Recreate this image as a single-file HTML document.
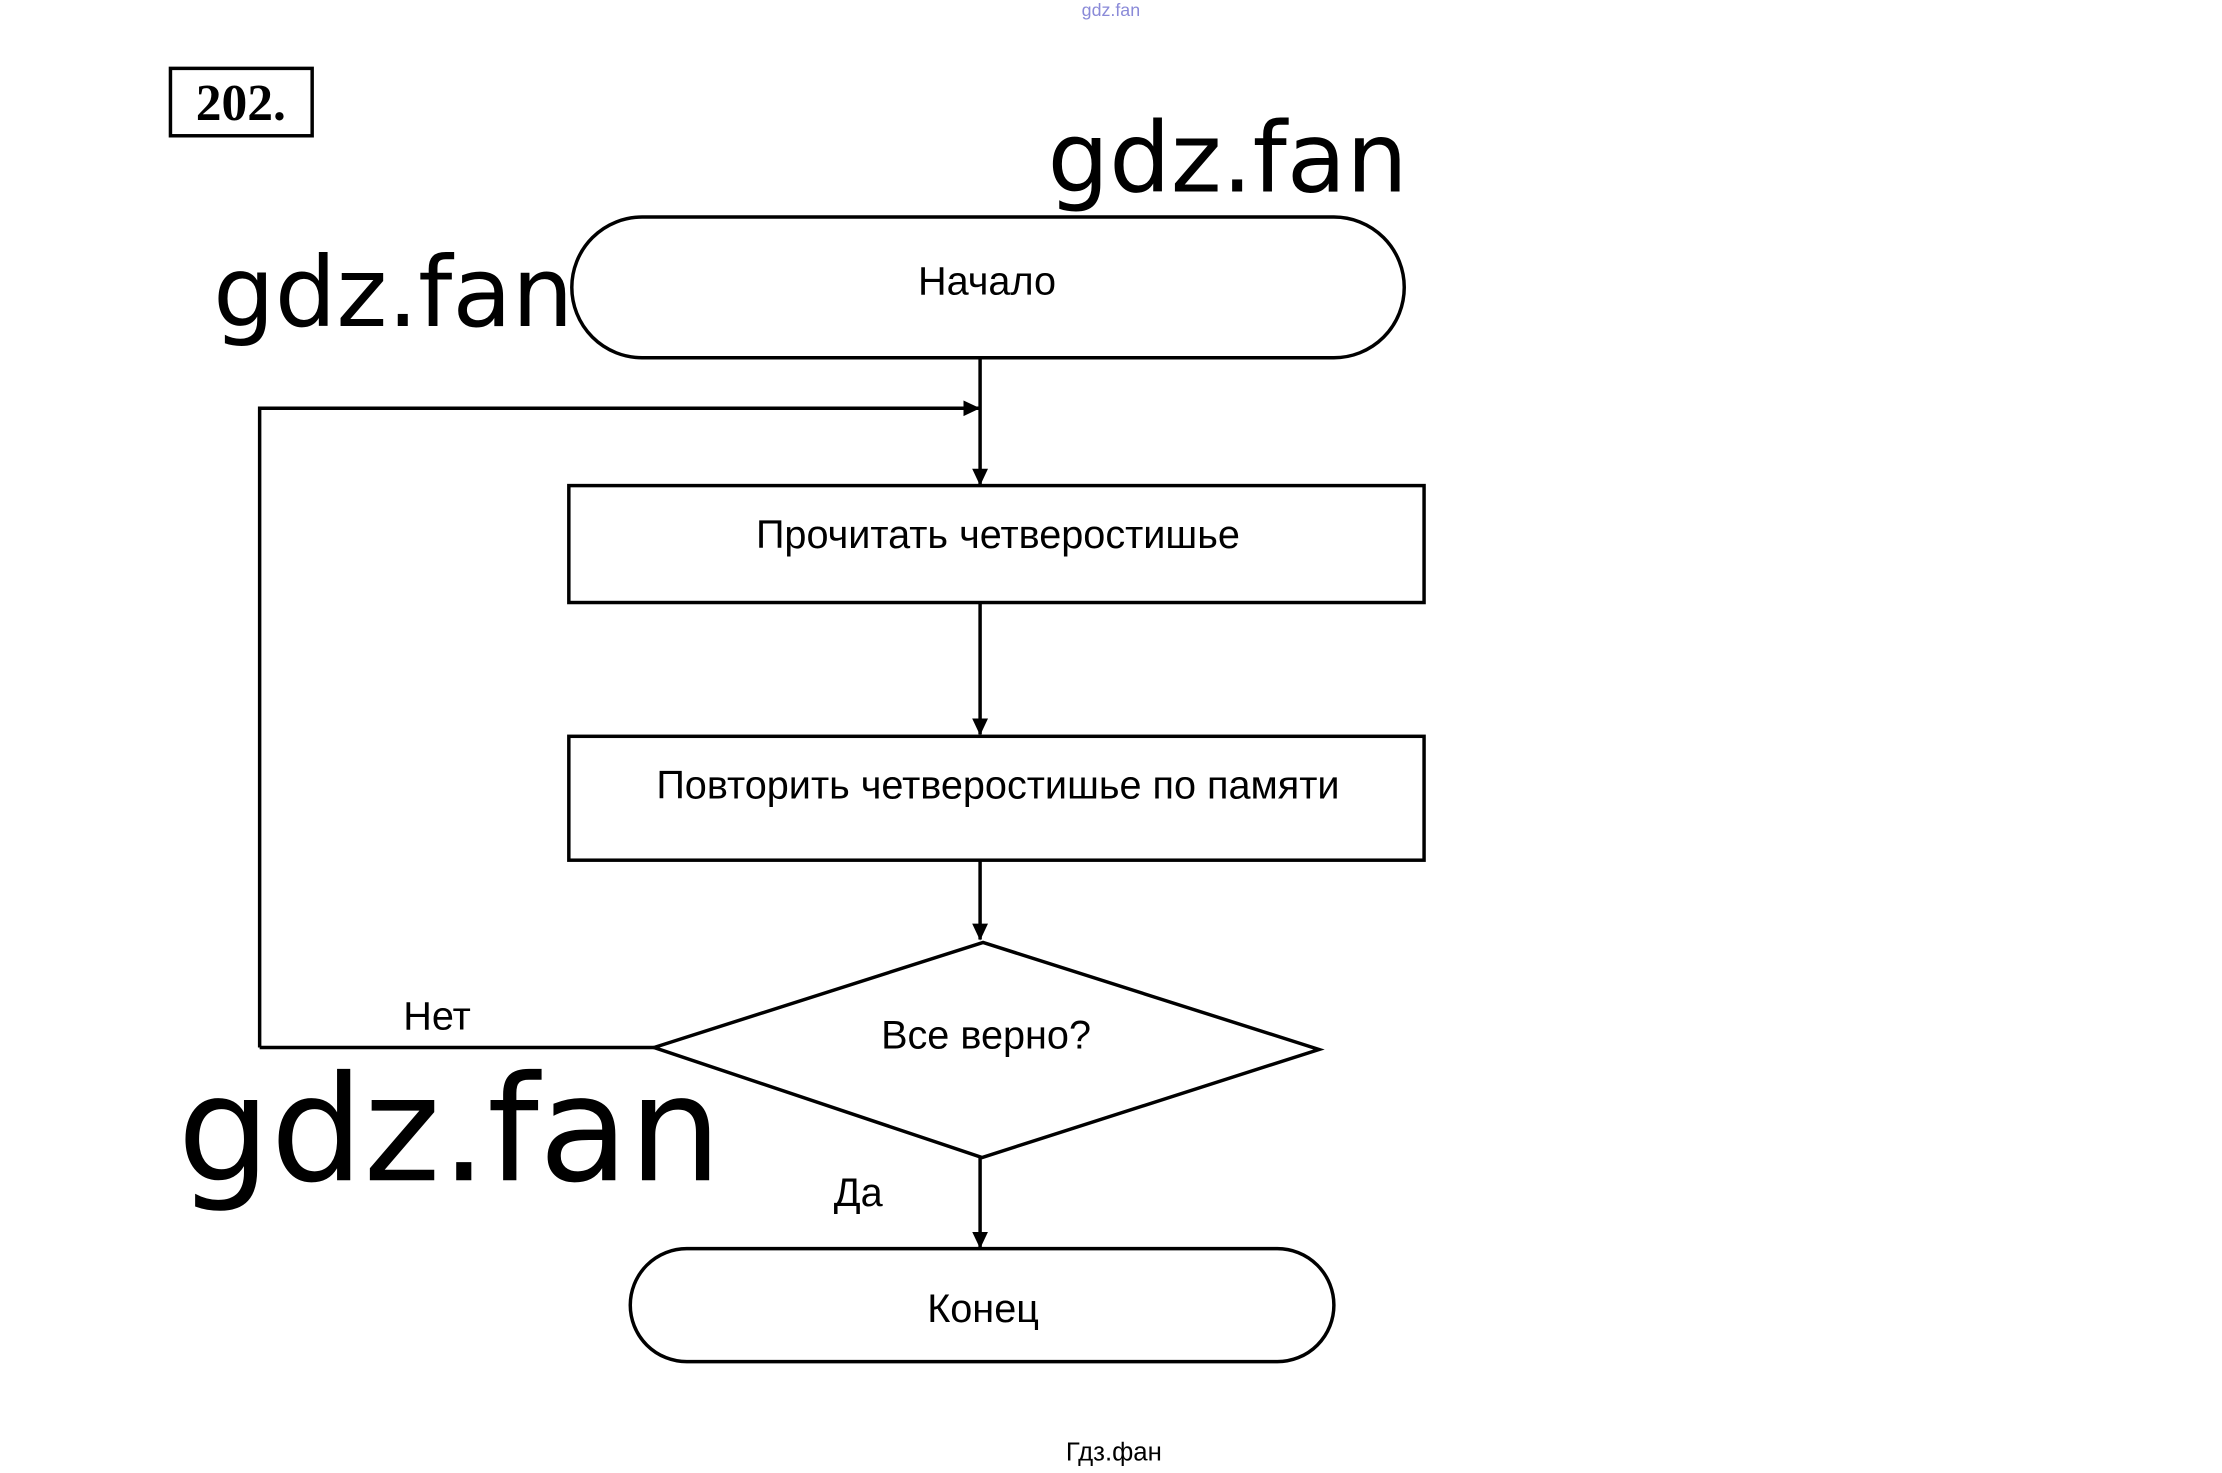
<!DOCTYPE html>
<html><head><meta charset="utf-8"><style>
html,body{margin:0;padding:0;background:#fff;}
svg{display:block;}
</style></head><body>
<svg width="2222" height="1473" viewBox="0 0 2222 1473" xmlns="http://www.w3.org/2000/svg">
<defs>
<marker id="a" markerWidth="18" markerHeight="18" refX="16" refY="8" orient="auto" markerUnits="userSpaceOnUse">
<path d="M0,0 L17,8 L0,16 z" fill="#000"/>
</marker>
</defs>
<g transform="scale(0.991)">
<g font-family="'Liberation Sans','DejaVu Sans',sans-serif" fill="#000">
<text x="1121" y="16" font-size="18" fill="#8a8ad8" text-anchor="middle">gdz.fan</text>
<rect x="172" y="69" width="143" height="68" fill="none" stroke="#000" stroke-width="3.5"/>
<text x="243" y="121" font-size="52" font-weight="bold" font-family="'Liberation Serif',serif" text-anchor="middle">202.</text>
<text x="1057" y="193" font-size="98" font-family="'DejaVu Sans',sans-serif">gdz.fan</text>
<text x="215" y="329" font-size="98" font-family="'DejaVu Sans',sans-serif">gdz.fan</text>
</g>
<g fill="none" stroke="#000" stroke-width="3.5">
<rect x="577" y="219" width="840" height="142" rx="71" ry="71" fill="#fff"/>
<line x1="989" y1="361" x2="989" y2="489" marker-end="url(#a)"/>
<polyline points="262,1057 262,412 988,412" marker-end="url(#a)"/>
<rect x="574" y="490" width="863" height="118"/>
<line x1="989" y1="608" x2="989" y2="741" marker-end="url(#a)"/>
<rect x="574" y="743" width="863" height="125"/>
<line x1="989" y1="868" x2="989" y2="948" marker-end="url(#a)"/>
<polygon points="660,1057 992,951 1331,1059 991,1168"/>
<line x1="262" y1="1057" x2="660" y2="1057"/>
<line x1="989" y1="1168" x2="989" y2="1259" marker-end="url(#a)"/>
<rect x="636" y="1260" width="710" height="114" rx="57" ry="57"/>
</g>
<g font-family="'Liberation Sans','DejaVu Sans',sans-serif" fill="#000" font-size="40" text-anchor="middle">
<text x="996" y="297">Начало</text>
<text x="1007" y="553">Прочитать четверостишье</text>
<text x="1007" y="806">Повторить четверостишье по памяти</text>
<text x="995" y="1058">Все верно?</text>
<text x="441" y="1039">Нет</text>
<text x="866" y="1217">Да</text>
<text x="992" y="1334">Конец</text>
<text x="1124" y="1474" font-size="26">Гдз.фан</text>
<text x="179" y="1191" font-size="148" text-anchor="start" font-family="'DejaVu Sans',sans-serif">gdz.fan</text>
</g>
</g>
</svg>
</body></html>
